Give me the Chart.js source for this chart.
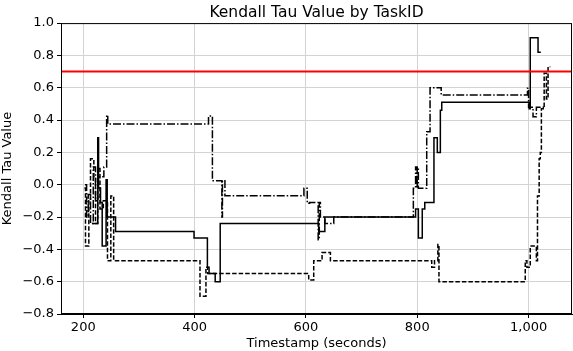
<!DOCTYPE html>
<html>
<head>
<meta charset="utf-8">
<script src="https://cdn.jsdelivr.net/npm/chart.js@4.4.0/dist/chart.umd.min.js"></script>
<style>
  html, body { margin: 0; padding: 0; background: #fff; }
  #wrap { width: 573px; height: 351px; }
</style>
</head>
<body>
<div id="wrap"><canvas id="tauChart" width="573" height="351"></canvas></div>
<script>
// Task series (step, value held from each timestamp)
const solidTimes = [216, 226, 227.5, 231, 234, 241, 243, 258, 399, 423, 426, 437, 446, 623, 634, 797, 802, 809, 813.5, 830, 836, 841.5, 844, 1001, 1003, 1017, 1022];
const solidTau   = [-0.24, 0.29, -0.02, -0.11, -0.38, 0.03, -0.2, -0.29, -0.33, -0.51, -0.55, -0.6, -0.24, -0.29, -0.2, -0.15, -0.33, -0.15, -0.11, 0.29, 0.2, 0.46, 0.51, 0.47, 0.91, 0.82, 0.82];

const dashedTimes = [202, 204, 210, 213, 219, 222, 226, 230, 236, 243.5, 249.5, 254.6, 409.7, 420.4, 423.5, 605, 614, 629, 644, 826, 831, 837, 839, 994, 997, 1003, 1014, 1016, 1019, 1021, 1023, 1028, 1032, 1035, 1039];
const dashedTau   = [-0.02, -0.38, -0.1, 0.16, 0.05, -0.24, 0.1, -0.15, -0.1, -0.47, -0.07, -0.47, -0.69, -0.51, -0.55, -0.59, -0.47, -0.42, -0.47, -0.51, -0.47, -0.37, -0.6, -0.47, -0.51, -0.38, -0.47, -0.07, 0.16, 0.2, 0.47, 0.69, 0.53, 0.73, 0.73];

const dashDotTimes = [203, 206, 209, 213, 218, 222, 226, 237, 242, 244, 425, 432, 449, 450, 454.5, 596.4, 602.4, 606.6, 622, 624, 626, 634, 650, 793, 797, 799, 800, 802, 817, 823, 843, 998, 1000, 1008, 1014, 1030];
const dashDotTau   = [0.0, -0.2, -0.06, -0.24, 0.11, -0.1, 0.05, 0.11, 0.43, 0.376, 0.425, 0.025, -0.2, 0.025, -0.068, -0.022, -0.115, -0.11, -0.34, -0.11, -0.2, -0.24, -0.2, -0.022, 0.11, -0.022, 0.11, -0.022, 0.328, 0.6, 0.555, 0.597, 0.48, 0.42, 0.48, 0.48];

const xTicks = [200, 400, 600, 800, 1000];
const threshold = [0.7];

function toPoints(times, vals) {
    return times.map((t, i) => ({ x: t, y: vals[i] }));
}

const FONT = 'DejaVu Sans';

// Red threshold line + top/right spines
const extras = {
    id: 'extras',
    afterDatasetsDraw(chart) {
        const { ctx, chartArea: a, scales } = chart;
        ctx.save();
        threshold.forEach(v => {
            const y = scales.y.getPixelForValue(v);
            ctx.beginPath();
            ctx.moveTo(a.left, y);
            ctx.lineTo(a.right, y);
            ctx.strokeStyle = '#ff0000';
            ctx.lineWidth = 2;
            ctx.stroke();
        });
        ctx.strokeStyle = '#000';
        ctx.lineWidth = 1;
        ctx.strokeRect(a.left + 0.5, a.top + 0.5, a.right - a.left - 1, a.bottom - a.top - 1);
        ctx.restore();
    }
};

const lineStyle = (dash) => ({
    borderColor: '#000',
    borderWidth: 1.5,
    borderDash: dash,
    pointRadius: 0,
    fill: false,
    stepped: true,
    tension: 0
});

new Chart(document.getElementById('tauChart'), {
    type: 'line',
    data: {
        datasets: [
            Object.assign({ label: 'Task 1', data: toPoints(solidTimes, solidTau) }, lineStyle([])),
            Object.assign({ label: 'Task 2', data: toPoints(dashedTimes, dashedTau) }, lineStyle([4.5, 2])),
            Object.assign({ label: 'Task 3', data: toPoints(dashDotTimes, dashDotTau) }, lineStyle([8, 2, 1.5, 2]))
        ]
    },
    options: {
        responsive: false,
        animation: false,
        layout: { padding: { left: 0, right: 1, top: 0, bottom: 0 } },
        plugins: {
            legend: { display: false },
            tooltip: { enabled: false },
            title: {
                display: true,
                text: 'Kendall Tau Value by TaskID',
                fullSize: false,
                color: '#000',
                font: { family: FONT, size: 15.5, weight: 'normal' },
                padding: { top: 4, bottom: 0.5 }
            }
        },
        scales: {
            x: {
                type: 'linear',
                min: 160,
                max: 1078,
                afterBuildTicks: (scale) => { scale.ticks = xTicks.map(v => ({ value: v })); },
                afterFit: (scale) => { scale.height = 37; },
                grid: { color: '#d3d3d3', tickColor: '#000', tickLength: 4 },
                border: { color: '#000' },
                ticks: {
                    color: '#000',
                    padding: 2,
                    maxRotation: 0,
                    font: { family: FONT, size: 13 }
                },
                title: {
                    display: true,
                    text: 'Timestamp (seconds)',
                    color: '#000',
                    padding: { top: 0, bottom: 0 },
                    font: { family: FONT, size: 13 }
                }
            },
            y: {
                min: -0.8,
                max: 1.0,
                afterFit: (scale) => { scale.width = 61; },
                grid: { color: '#d3d3d3', tickColor: '#000', tickLength: 4 },
                border: { color: '#000' },
                ticks: {
                    stepSize: 0.2,
                    color: '#000',
                    padding: 3,
                    font: { family: FONT, size: 13 },
                    callback: (v) => v.toFixed(1).replace('-', '\u2212')
                },
                title: {
                    display: true,
                    text: 'Kendall Tau Value',
                    color: '#000',
                    padding: { top: 0, bottom: 2 },
                    font: { family: FONT, size: 13 }
                }
            }
        }
    },
    plugins: [extras]
});
</script>
</body>
</html>
